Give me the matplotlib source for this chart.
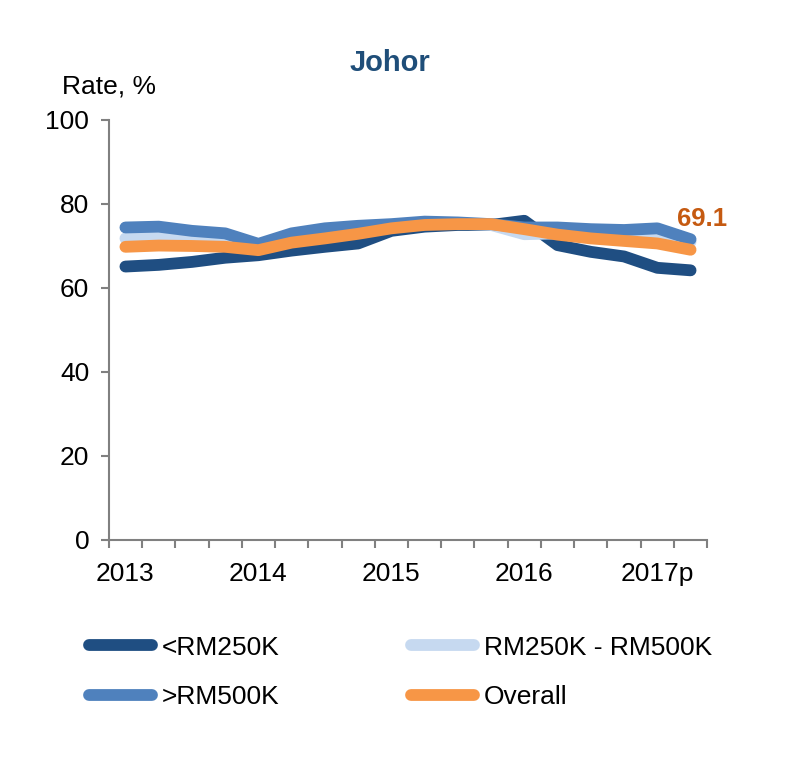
import matplotlib
matplotlib.use('Agg')
import matplotlib.pyplot as plt
import numpy as np

plt.rcParams['font.family'] = ['Liberation Sans', 'DejaVu Sans']

# quarterly data, 2013Q1 .. 2017Q2
quarters = ['2013', '', '', '', '2014', '', '', '', '2015', '', '', '',
            '2016', '', '', '', '2017p', '']
below_250k = [65.1, 65.5, 66.2, 67.2, 67.8, 68.9, 69.8, 70.6, 73.6, 74.6,
              75.0, 75.0, 76.0, 70.2, 68.6, 67.5, 64.8, 64.2]
mid_250_500k = [71.8, 72.1, 71.3, 70.6, 69.3, 71.5, 72.5, 73.5, 74.5, 75.2,
                75.3, 75.0, 72.8, 73.0, 72.6, 72.3, 72.6, 71.0]
above_500k = [74.4, 74.6, 73.6, 73.0, 70.5, 73.0, 74.2, 74.8, 75.2, 75.8,
              75.6, 75.2, 74.4, 74.4, 74.0, 73.8, 74.2, 71.6]
overall = [69.8, 70.1, 70.0, 69.8, 69.0, 70.8, 71.8, 72.9, 74.2, 75.0,
           75.2, 75.2, 74.0, 72.7, 71.8, 71.2, 70.6, 69.1]

series = [
    ('<RM250K', below_250k, '#1f4e82'),
    ('RM250K - RM500K', mid_250_500k, '#c6d9f0'),
    ('>RM500K', above_500k, '#4f81bd'),
    ('Overall', overall, '#f79646'),
]

fig = plt.figure(figsize=(8, 7.8), dpi=100)
ax = fig.add_axes([0.136, 0.3077, 0.748, 0.5385])

x = np.arange(len(quarters))
lines = []
for name, vals, col in series:
    ln, = ax.plot(x, vals, color=col, linewidth=8.5, solid_capstyle='round',
                  solid_joinstyle='round', label=name)
    lines.append(ln)

ax.text(x[-1] - 0.4, overall[-1] + 7.4, '{:.1f}'.format(overall[-1]),
        color='#c55a11', fontsize=18.5, fontweight='bold', ha='left', va='center')

ax.set_xlim(-0.5, len(quarters) - 0.5)
ax.set_ylim(0, 100)
ax.set_yticks(np.arange(0, 101, 20))
ax.set_xticks(x)
ax.set_xticklabels(quarters)
ax.set_xticks(np.arange(-0.5, len(quarters)), minor=True)
ax.tick_params(axis='x', which='major', length=0, labelsize=19, pad=16)
ax.tick_params(axis='x', which='minor', length=6, color='#808080', width=1.5)
ax.tick_params(axis='y', length=6, color='#808080', width=1.5, labelsize=19, pad=8)

for s in ['top', 'right']:
    ax.spines[s].set_visible(False)
for s in ['left', 'bottom']:
    ax.spines[s].set_color('#808080')
    ax.spines[s].set_linewidth(1.5)

fig.text(0.078, 0.889, 'Rate, %', fontsize=19, ha='left', va='center')
fig.text(0.487, 0.919, 'Johor', fontsize=21, fontweight='bold',
         color='#1f4e79', ha='center', va='center')

# row-wise order: matplotlib fills legend columns first
order = [0, 2, 1, 3]
fig.legend([lines[i] for i in order], [series[i][0] for i in order],
           loc='upper left', bbox_to_anchor=(0.111, 0.185), ncol=2,
           frameon=False, fontsize=19, handlelength=2.4, handletextpad=0.35,
           columnspacing=5.0, labelspacing=0.95, borderaxespad=0, borderpad=0)

fig.savefig('out.png', dpi=100)
plt.close()
